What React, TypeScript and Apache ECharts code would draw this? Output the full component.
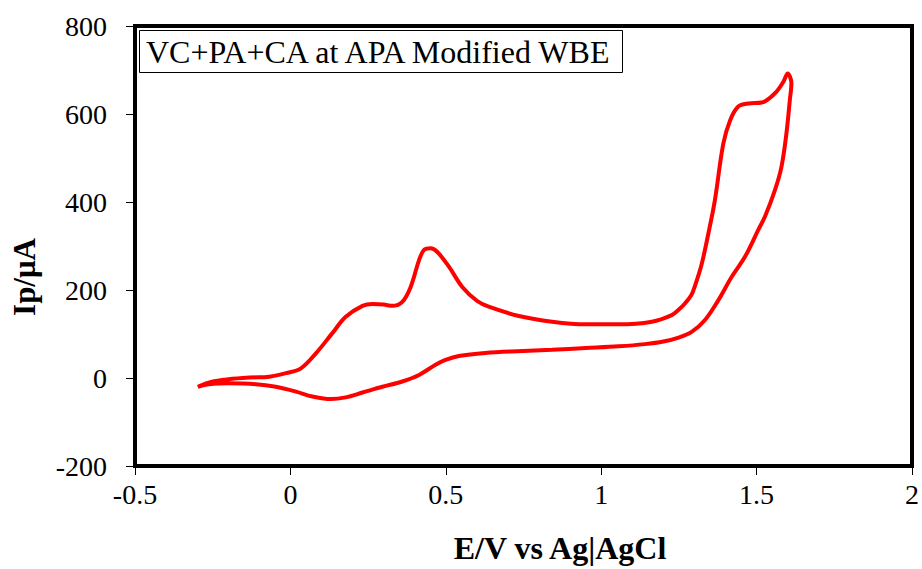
import React, { useEffect, useRef } from "react";
import * as echarts from "echarts";

const xTicks = [-0.5, 0, 0.5, 1, 1.5, 2];
const yTicks = [-200, 0, 200, 400, 600, 800];

// Anodic (forward) scan: E (V), I (µA)
const forwardE = [-0.298, -0.255, -0.2, -0.13, -0.068, -0.014, 0.034, 0.082, 0.135, 0.178, 0.232, 0.264, 0.3, 0.328, 0.36, 0.387, 0.414, 0.43, 0.451, 0.472, 0.51, 0.553, 0.601, 0.638, 0.735, 0.842, 0.949, 1.056, 1.163, 1.227, 1.249, 1.27, 1.291, 1.302, 1.323, 1.345, 1.366, 1.393, 1.415, 1.441, 1.473, 1.516, 1.559, 1.586, 1.6, 1.612];
const forwardI = [-20, -9, -3, 1, 3, 11, 22, 56, 102, 139, 164, 168, 167, 164, 173, 207, 268, 291, 295, 287, 253, 207, 175, 162, 141, 128, 122, 122, 128, 143, 155, 170, 190, 210, 258, 329, 405, 533, 586, 617, 624, 626, 647, 673, 692, 670];

// Cathodic (reverse) scan
const reverseE = [1.607, 1.596, 1.58, 1.559, 1.527, 1.505, 1.463, 1.42, 1.377, 1.334, 1.291, 1.249, 1.2, 1.14, 1.056, 0.95, 0.842, 0.73, 0.627, 0.542, 0.499, 0.467, 0.414, 0.36, 0.296, 0.232, 0.178, 0.13, 0.071, 0.018, -0.047, -0.111, -0.197, -0.261, -0.298];
const reverseI = [632, 556, 480, 427, 367, 336, 276, 230, 177, 132, 105, 92, 83, 77, 72, 68, 64, 61, 57, 50, 41, 30, 7, -8, -20, -33, -44, -48, -42, -31, -20, -14, -12, -14, -20];

const seriesName = "VC+PA+CA at APA Modified WBE";
const xTitle = "E/V vs Ag|AgCl";
const yTitle = "Ip/\u03bcA";

const FONT = '"Liberation Serif", "Times New Roman", serif';

export default function App() {
  const ref = useRef<HTMLDivElement>(null);
  useEffect(() => {
    if (!ref.current) return;
    const chart = echarts.init(ref.current, null, { renderer: "svg" });
    const data: number[][] = [];
    forwardE.forEach((e, i) => data.push([e, forwardI[i]]));
    reverseE.forEach((e, i) => data.push([e, reverseI[i]]));
    chart.setOption({
      animation: false,
      backgroundColor: "#fff",
      title: {
        text: seriesName,
        left: 139,
        top: 30,
        borderColor: "#000",
        borderWidth: 1,
        padding: [3, 7, 3, 7],
        textStyle: { fontFamily: FONT, fontSize: 32, fontWeight: "normal", color: "#000", lineHeight: 37 },
      },
      grid: { left: 135, right: 8, top: 26, bottom: 103, show: true, borderColor: "#000", borderWidth: 4 },
      xAxis: {
        type: "value",
        min: xTicks[0],
        max: xTicks[xTicks.length - 1],
        interval: 0.5,
        axisLine: { show: false, onZero: false },
        axisTick: { show: true, inside: false, length: 9, lineStyle: { color: "#000", width: 1 } },
        axisLabel: { color: "#000", fontFamily: FONT, fontSize: 28, margin: 14 },
        splitLine: { show: false },
      },
      yAxis: {
        type: "value",
        min: yTicks[0],
        max: yTicks[yTicks.length - 1],
        interval: 200,
        axisLine: { show: false, onZero: false },
        axisTick: { show: true, inside: false, length: 9, lineStyle: { color: "#000", width: 1 } },
        axisLabel: { color: "#000", fontFamily: FONT, fontSize: 28, margin: 28 },
        splitLine: { show: false },
      },
      graphic: [
        {
          type: "text",
          x: 560,
          y: 548,
          style: { text: xTitle, font: `bold 32px ${FONT}`, fill: "#000", align: "center", verticalAlign: "middle" },
        },
        {
          type: "text",
          x: 24,
          y: 277,
          rotation: Math.PI / 2,
          style: { text: yTitle, font: `bold 31px ${FONT}`, fill: "#000", align: "center", verticalAlign: "middle" },
        },
      ],
      series: [
        {
          name: seriesName,
          type: "line",
          data,
          smooth: 0.35,
          symbol: "none",
          lineStyle: { color: "#ff0000", width: 4 },
        },
      ],
    });
    return () => chart.dispose();
  }, []);
  return <div ref={ref} style={{ position: "fixed", left: 0, top: 0, width: 922, height: 569 }} />;
}
